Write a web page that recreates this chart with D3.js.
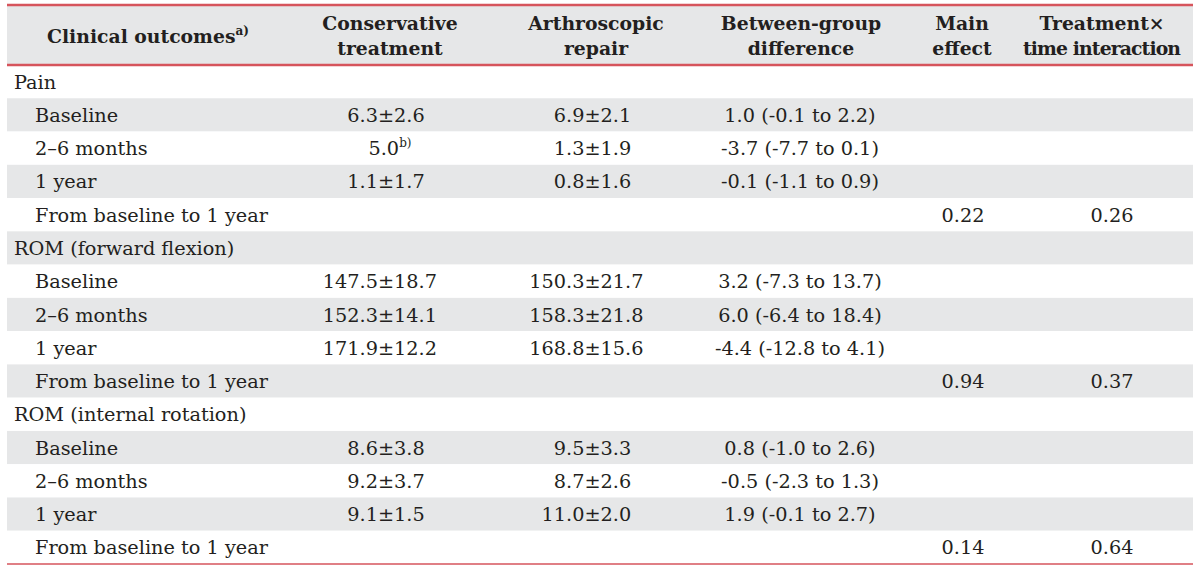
<!DOCTYPE html>
<html><head><meta charset="utf-8">
<script src="https://cdn.jsdelivr.net/npm/d3@7"></script>
<style>body{margin:0;background:#fff}</style></head>
<body><svg id="c" width="1200" height="569"></svg>
<script>
const columns = ["Clinical outcomes", "Conservative treatment", "Arthroscopic repair", "Between-group difference", "Main effect", "Treatment× time interaction"];
const headerLines = [["Clinical outcomes"], ["Conservative", "treatment"], ["Arthroscopic", "repair"], ["Between-group", "difference"], ["Main", "effect"], ["Treatment×", "time interaction"]];
const rowLabels = ["Pain", "Baseline", "2–6 months", "1 year", "From baseline to 1 year",
  "ROM (forward flexion)", "Baseline", "2–6 months", "1 year", "From baseline to 1 year",
  "ROM (internal rotation)", "Baseline", "2–6 months", "1 year", "From baseline to 1 year"];
const rowIsGroup = [1,0,0,0,0,1,0,0,0,0,1,0,0,0,0];
const conservative = ["", "6.3±2.6", "5.0", "1.1±1.7", "", "", "147.5±18.7", "152.3±14.1", "171.9±12.2", "", "", "8.6±3.8", "9.2±3.7", "9.1±1.5", ""];
const conservativeSup = ["", "", "b)", "", "", "", "", "", "", "", "", "", "", "", ""];
const arthroscopic = ["", "6.9±2.1", "1.3±1.9", "0.8±1.6", "", "", "150.3±21.7", "158.3±21.8", "168.8±15.6", "", "", "9.5±3.3", "8.7±2.6", "11.0±2.0", ""];
const difference = ["", "1.0 (-0.1 to 2.2)", "-3.7 (-7.7 to 0.1)", "-0.1 (-1.1 to 0.9)", "", "", "3.2 (-7.3 to 13.7)", "6.0 (-6.4 to 18.4)", "-4.4 (-12.8 to 4.1)", "", "", "0.8 (-1.0 to 2.6)", "-0.5 (-2.3 to 1.3)", "1.9 (-0.1 to 2.7)", ""];
const mainEffect = ["", "", "", "", "0.22", "", "", "", "", "0.94", "", "", "", "", "0.14"];
const interaction = ["", "", "", "", "0.26", "", "", "", "", "0.37", "", "", "", "", "0.64"];

const svg = d3.select("#c");
const font = "DejaVu Serif";
const fs = 19.3, hfs = 18.8;
const ink = "#231f20";
const left = 7, right = 1193;
const headTop = 5, headBottom = 65, tableBottom = 564;

const y = d3.scaleBand().domain(d3.range(rowLabels.length)).range([headBottom, tableBottom]);
const colX = d3.scaleOrdinal().domain(columns).range([148, 390, 596, 801, 962, 1102]);
const dataX = d3.scaleOrdinal().domain(columns).range([0, 390, 596, 800, 963, 1112]);
const pmX = d3.scaleOrdinal().domain(columns).range([0, 386, 592.5, 0, 0, 0]);

// row backgrounds
svg.selectAll("rect.row").data(d3.range(rowLabels.length)).join("rect")
  .attr("x", left).attr("width", right - left)
  .attr("y", i => y(i)).attr("height", y.bandwidth())
  .attr("fill", i => i % 2 === 1 ? "#e6e7e8" : "#ffffff");

// header background
svg.append("rect").attr("x", left).attr("y", headTop).attr("width", right - left).attr("height", headBottom - headTop).attr("fill", "#e6e7e8");

// header text
const hg = svg.append("g").attr("font-family", font).attr("font-weight", "bold").attr("font-size", hfs).attr("fill", ink).attr("text-anchor", "middle");
headerLines.forEach((lines, ci) => {
  const cx = colX(columns[ci]);
  if (lines.length === 1) {
    const t = hg.append("text").attr("x", cx).attr("y", 43);
    t.append("tspan").text(lines[0]);
    t.append("tspan").attr("font-size", 12).attr("dy", -8).text("a)");
  } else {
    lines.forEach((l, li) => hg.append("text").attr("x", cx).attr("y", 30 + li * 25)
      .attr("textLength", ci === 5 && li === 1 ? 158 : null).text(l));
  }
});

// row labels
const tg = svg.append("g").attr("font-family", font).attr("font-size", fs).attr("fill", ink);
tg.selectAll("text.lab").data(rowLabels).join("text")
  .attr("x", (d, i) => rowIsGroup[i] ? 14 : 35)
  .attr("y", (d, i) => y(i) + y.bandwidth() / 2 + 7)
  .text(d => d);

function measure(s) {
  const t = tg.append("text").text(s);
  const w = t.node().getComputedTextLength();
  t.remove();
  return w;
}

function cells(arr, col, sup) {
  arr.forEach((v, i) => {
    if (!v) return;
    const yy = y(i) + y.bandwidth() / 2 + 7;
    let t;
    const k = v.indexOf("±");
    if (k >= 0 && pmX(col)) {
      const pre = measure(v.slice(0, k));
      const pm = measure("±");
      t = tg.append("text").attr("x", pmX(col) - pre - pm / 2).attr("y", yy);
    } else {
      t = tg.append("text").attr("text-anchor", "middle").attr("x", dataX(col)).attr("y", yy);
    }
    t.append("tspan").text(v);
    if (sup && sup[i]) t.append("tspan").attr("font-size", 12).attr("dy", -8).text(sup[i]);
  });
}
cells(conservative, columns[1], conservativeSup);
cells(arthroscopic, columns[2]);
cells(difference, columns[3]);
cells(mainEffect, columns[4]);
cells(interaction, columns[5]);

// rules
const red = "#d6545c";
[[headTop, 2.5], [headBottom, 2.5], [tableBottom, 1.5]].forEach(([yy, w]) =>
  svg.append("line").attr("x1", left).attr("x2", right).attr("y1", yy).attr("y2", yy).attr("stroke", red).attr("stroke-width", w));
</script></body></html>
